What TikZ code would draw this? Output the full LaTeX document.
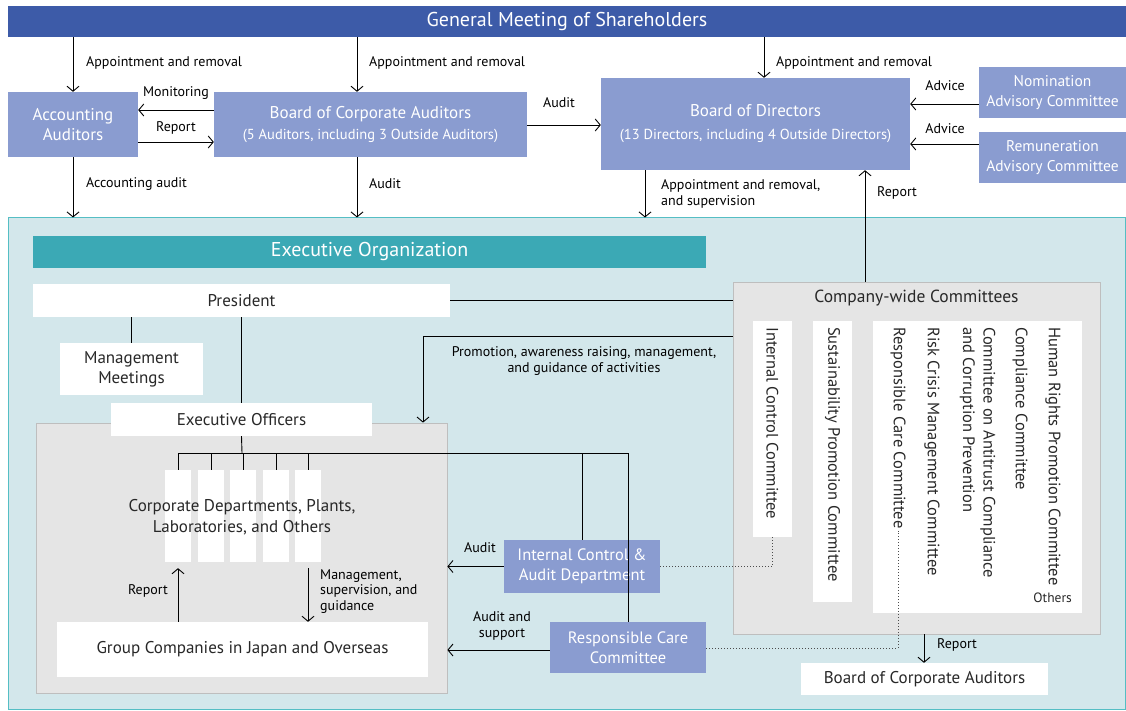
\documentclass[tikz,border=0pt]{standalone}
\usepackage{fontspec}
\setmainfont{PT Sans}
\usetikzlibrary{arrows.meta,calc}
\definecolor{gmblue}{RGB}{61,91,168}
\definecolor{peri}{RGB}{138,156,208}
\definecolor{tealbar}{RGB}{59,169,181}
\definecolor{tealbg}{RGB}{211,231,235}
\definecolor{tealline}{RGB}{85,190,196}
\definecolor{grayfill}{RGB}{229,229,229}
\definecolor{grayline}{RGB}{190,190,190}
\definecolor{txt}{RGB}{40,40,40}
\tikzset{
  bx/.style={rectangle,inner sep=0pt,align=center},
  peribox/.style={bx,fill=peri,text=white,font=\fontsize{17}{20}\selectfont},
  whitebox/.style={bx,fill=white,text=txt,font=\fontsize{17}{20}\selectfont},
  graybox/.style={bx,fill=grayfill,draw=grayline,line width=0.8pt},
  lbl/.style={inner sep=0pt,text=black,font=\fontsize{14}{16}\selectfont,align=left},
  arr/.style={-{Straight Barb[length=5pt,width=12pt]},line width=0.9pt,black},
  ln/.style={line width=0.9pt,black},
  dots/.style={line width=1pt,dotted,black!70},
  vtext/.style={rotate=-90,anchor=west,inner sep=0pt,text=txt,font=\fontsize{16.5}{20.5}\selectfont,align=left},
}
\begin{document}
\begin{tikzpicture}[x=1pt,y=-1pt]
\useasboundingbox (0,0) rectangle (1126,711);
\fill[white] (0,0) rectangle (1126,711);

% top bar
\node[bx,fill=gmblue,text=white,minimum width=1118,minimum height=31,font=\fontsize{20}{22}\selectfont] (gm) at (567,21.5) {General Meeting of Shareholders};

% upper boxes
\node[peribox,minimum width=130,minimum height=65] (aa) at (73,124.5) {Accounting\\Auditors};
\node[peribox,minimum width=313,minimum height=65] (bca) at (370.5,124.5) {Board of Corporate Auditors\\[1pt]{\fontsize{14.5}{19}\selectfont(5 Auditors, including 3 Outside Auditors)}};
\node[peribox,minimum width=309,minimum height=92] (bod) at (755.5,124) {Board of Directors\\[3pt]{\fontsize{14.5}{19}\selectfont(13 Directors, including 4 Outside Directors)}};
\node[peribox,minimum width=147,minimum height=51,font=\fontsize{15.5}{19.5}\selectfont] (nac) at (1052.5,92.5) {Nomination\\Advisory Committee};
\node[peribox,minimum width=147,minimum height=51,font=\fontsize{15.5}{19.5}\selectfont] (rac) at (1052.5,157.5) {Remuneration\\Advisory Committee};

% big teal region
\node[bx,fill=tealbg,draw=tealline,line width=1pt,minimum width=1117,minimum height=491] (teal) at (567,463.5) {};

% upper connectors
\draw[arr] (gm.south -| aa.north) -- (aa.north);
\node[lbl,anchor=west] at (86,63) {Appointment and removal};
\draw[arr] (gm.south -| 357,0) -- (bca.north -| 357,0);
\node[lbl,anchor=west] at (369,63) {Appointment and removal};
\draw[arr] (gm.south -| 764,0) -- (bod.north -| 764,0);
\node[lbl,anchor=west] at (776,63) {Appointment and removal};

\draw[arr] (bca.west |- 0,110) -- (aa.east |- 0,110);
\node[lbl] at (176,93) {Monitoring};
\draw[arr] (aa.east |- 0,142) -- (bca.west |- 0,142);
\node[lbl] at (176,128) {Report};
\draw[arr] (bca.east |- 0,125) -- (bod.west |- 0,125);
\node[lbl] at (559,103) {Audit};
\draw[arr] (nac.west |- 0,104) -- (bod.east |- 0,104);
\node[lbl] at (945,86) {Advice};
\draw[arr] (rac.west |- 0,144) -- (bod.east |- 0,144);
\node[lbl] at (945,129) {Advice};

\draw[arr] (aa.south) -- (teal.north -| aa.south);
\node[lbl,anchor=west] at (86,184) {Accounting audit};
\draw[arr] (bca.south -| 357,0) -- (teal.north -| 357,0);
\node[lbl,anchor=west] at (369,184) {Audit};
\draw[arr] (bod.south -| 645,0) -- (teal.north -| 645,0);
\node[lbl,anchor=west] at (661,194) {Appointment and removal,\\and supervision};

% executive organization
\node[bx,fill=tealbar,text=white,minimum width=673,minimum height=32,font=\fontsize{20}{22}\selectfont] (eorg) at (369.5,252) {Executive Organization};
\node[whitebox,minimum width=417,minimum height=33] (pres) at (241.5,300.5) {President};
\node[whitebox,minimum width=143,minimum height=52] (mm) at (131.5,369) {Management\\Meetings};
\node[graybox,minimum width=411,minimum height=270] (gray) at (241.5,558) {};
\node[whitebox,minimum width=261,minimum height=33] (eo) at (241.5,419.5) {Executive Officers};

% columns
\foreach \i/\x in {1/178,2/211,3/243,4/276,5/308}{
  \node[bx,fill=white,minimum width=26,minimum height=92] (c\i) at (\x,516) {};
}
\node[bx,text=txt,font=\fontsize{17}{20.5}\selectfont] (cdp) at (242,517) {Corporate Departments, Plants,\\Laboratories, and Others};

% company-wide committees
\node[graybox,minimum width=367,minimum height=352] (cwc) at (916.5,458) {};
\node[bx,text=txt,font=\fontsize{17.5}{20}\selectfont] (cwct) at (916.5,298) {Company-wide Committees};
\node[bx,fill=white,minimum width=39,minimum height=216] (icc) at (772.5,429) {};
\node[bx,fill=white,minimum width=39,minimum height=281] (spc) at (832.5,461.5) {};
\node[bx,fill=white,minimum width=209,minimum height=292] (oth) at (977.5,467) {};
\node[vtext] (icct) at (772.5,327) {Internal Control Committee};
\node[vtext] (spct) at (832.5,327) {Sustainability Promotion Committee};
\node[vtext] (rct) at (898,327) {Responsible Care Committee};
\node[vtext] (rcm) at (932,327) {Risk Crisis Management Committee};
\node[vtext] (ant) at (977.5,327) {Committee on Antitrust Compliance\\and Corruption Prevention};
\node[vtext] (cmp) at (1020,327) {Compliance Committee};
\node[vtext] (hrp) at (1053,327) {Human Rights Promotion Committee};
\node[bx,text=txt,anchor=east,font=\fontsize{13.5}{15}\selectfont] (others) at (1072,598) {Others};

% connectors in executive organization
\draw[ln] (pres.east) -- (cwc.west |- pres.east);
\draw[arr] (cwc.north -| 865,0) -- (bod.south -| 865,0);
\node[lbl,anchor=west] at (877,193) {Report};
\draw[arr] (cwc.west |- 0,336) -- (423,336) -- (gray.north -| 423,0);
\node[lbl,align=center] at (584,361) {Promotion, awareness raising, management,\\and guidance of activities};
\draw[ln] (pres.south -| mm.north) -- (mm.north);
\draw[ln] (pres.south -| eo.north) -- (eo.north);

% internal control & responsible care
\node[peribox,minimum width=156,minimum height=53,font=\fontsize{16.5}{20}\selectfont] (icad) at (582,566.5) {Internal Control \&\\Audit Department};
\node[peribox,minimum width=156,minimum height=51,font=\fontsize{16.5}{20}\selectfont] (rcc) at (628,647.5) {Responsible Care\\Committee};

\coordinate (hl) at (242,453);
\draw[ln] (eo.south) -- (hl);
\draw[ln] (c1.north |- hl) -- (rcc.north |- hl) -- (rcc.north);
\draw[ln] (icad.north |- hl) -- (icad.north);
\foreach \i in {1,...,5}{\draw[ln] (c\i.north |- hl) -- (c\i.north);}

\draw[arr] (icad.west) -- (gray.east |- icad.west);
\node[lbl] at (480,548) {Audit};
\draw[arr] (rcc.west |- 0,650) -- (gray.east |- 0,650);
\node[lbl,align=center] at (502,626) {Audit and\\support};

\draw[dots] (icad.east) -- (icc.south |- icad.east) -- (icc.south);
\draw[dots] (rcc.east |- 0,648) -- (rct.east |- 0,648) -- ([yshift=-2pt]rct.east);

% group companies
\begin{scope}
\clip (312,560) rectangle (440,612);
\node[lbl,anchor=north west,font=\fontsize{14}{15.5}\selectfont] (msg) at (320,569) {Management,\\supervision, and\\guidance};
\end{scope}
\node[whitebox,minimum width=371,minimum height=55] (gc) at (242.5,649.5) {Group Companies in Japan and Overseas};
\draw[arr,shorten >=6pt] (gc.north -| c1.south) -- (c1.south);
\node[lbl,anchor=east] at (168,591) {Report};
\draw[arr,shorten <=6pt] (c5.south) -- (gc.north -| c5.south);

% board of corporate auditors (bottom)
\node[whitebox,minimum width=247,minimum height=32] (bca2) at (924.5,679) {Board of Corporate Auditors};
\draw[arr] (cwc.south -| 924,0) -- (bca2.north -| 924,0);
\node[lbl,anchor=west] at (937,645) {Report};
\end{tikzpicture}
\end{document}
